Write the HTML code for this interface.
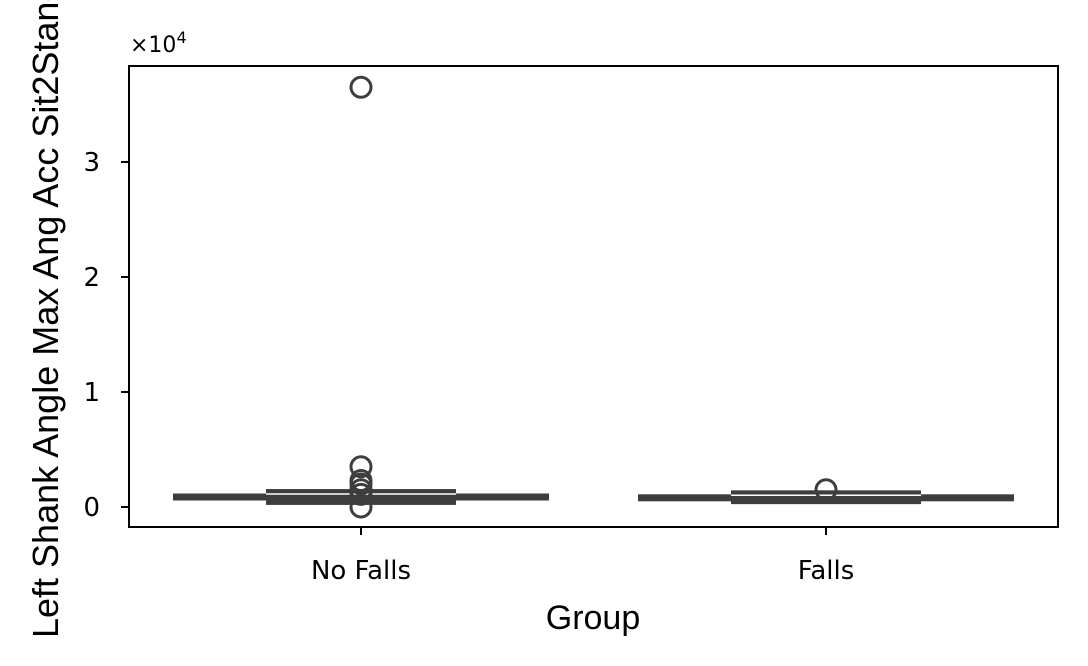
<!DOCTYPE html>
<html><head><meta charset="utf-8"><style>
body{margin:0;background:#fff;overflow:hidden}
svg{display:block;font-family:"DejaVu Sans",sans-serif}
</style></head><body>
<svg width="1088" height="666">
<g id="plot"></g>
</svg>
<script>
const categories=["No Falls","Falls"];
const q1=[180,250];
const q3=[1560,1450];
const medians=[1130,1020];
const centerLine=[870,800];
const outliersNoFalls=[36500,3500,2300,2000,1500,1100,0];
const outliersFalls=[1500];
const yTicks=[0,1,2,3];
const svg=document.querySelector('svg');
const NS='http://www.w3.org/2000/svg';
const L=129,R=1058,T=66,B=527;
const y=v=>507-v*0.0115;
const x=i=>361+i*465;
function mk(t,a,p){const e=document.createElementNS(NS,t);for(const k in a)e.setAttribute(k,a[k]);(p||svg).appendChild(e);return e;}
const col='#3d3d3d';
categories.forEach((c,i)=>{
  const cx=x(i);
  const wl=mk('rect',{x:cx-188,y:y(centerLine[i])-3.5,width:376,height:7,fill:col});
  
  
  const b=mk('rect',{x:cx-95,y:y(q3[i]),width:190,height:y(q1[i])-y(q3[i]),fill:col});
  
  
  const m=mk('line',{x1:cx-95,x2:cx+95,y1:y(medians[i]),y2:y(medians[i]),stroke:'#fff','stroke-width':1.5});
  
  
  (i==0?outliersNoFalls:outliersFalls).forEach(v=>{
    const o=mk('circle',{cx:cx,cy:y(v),r:10,fill:'none',stroke:col,'stroke-width':3});
    
    
  });
  mk('line',{x1:cx,x2:cx,y1:B,y2:B+8,stroke:'#000','stroke-width':2});
  const t=mk('text',{x:cx,y:579,'font-size':26,'text-anchor':'middle'});t.textContent=c;
  
  
});
yTicks.forEach(v=>{
  mk('line',{x1:L-8,x2:L,y1:y(v*1e4),y2:y(v*1e4),stroke:'#000','stroke-width':2});
  const t=mk('text',{x:L-29,y:y(v*1e4)+9,'font-size':26,'text-anchor':'end'});t.textContent=v;
  
  
});
const fr=mk('rect',{x:L,y:T,width:R-L,height:B-T,fill:'none',stroke:'#000','stroke-width':2});


const ex=mk('text',{x:130,y:52,'font-size':22});ex.innerHTML='×10<tspan dy="-9" font-size="16">4</tspan>';


const xt=mk('text',{x:593,y:629,'font-size':34,'text-anchor':'middle','font-family':'Liberation Sans, Arial, sans-serif'});xt.textContent='Group';


const yt=mk('text',{x:0,y:0,'font-size':36,'text-anchor':'start','font-family':'Liberation Sans, Arial, sans-serif',transform:'translate(58,638) rotate(-90)'});yt.textContent='Left Shank Angle Max Ang Acc Sit2Stand';


</script>
</body></html>
